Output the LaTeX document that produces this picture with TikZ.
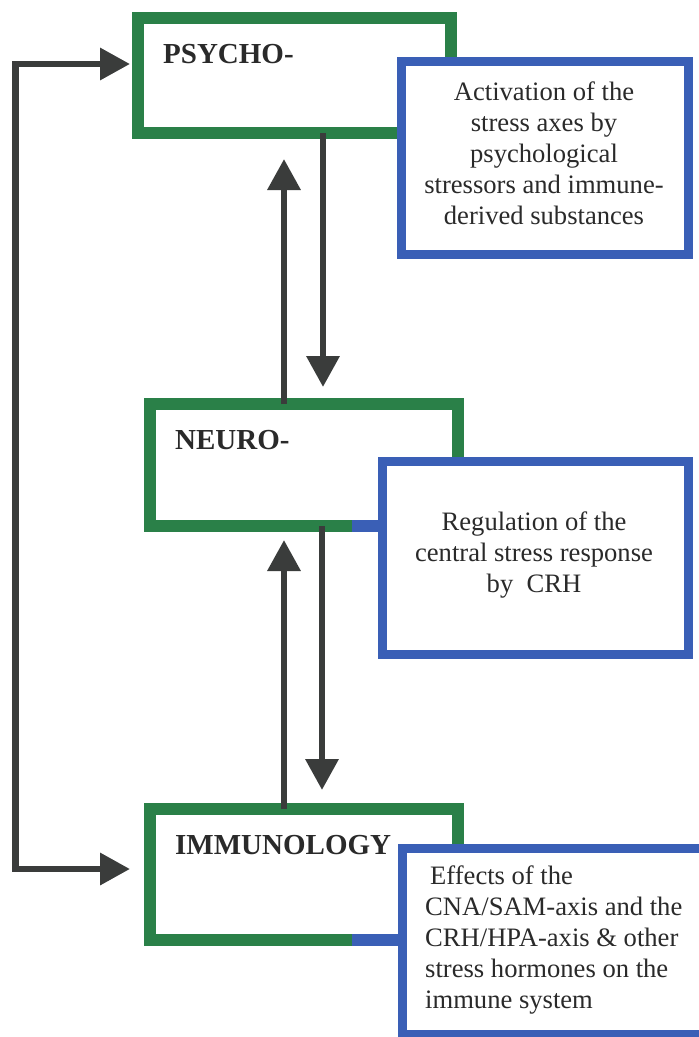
\documentclass[tikz,border=0pt]{standalone}
\usepackage{fontspec}
\setmainfont{Liberation Serif}
\usetikzlibrary{arrows.meta}
\definecolor{boxgreen}{HTML}{2A8048}
\definecolor{boxblue}{HTML}{3A5FB6}
\definecolor{arrowgray}{HTML}{3A3C3B}
\definecolor{inkgray}{HTML}{2A2A2A}

\begin{document}
\begin{tikzpicture}[x=1pt,y=-1pt,
  stagebox/.style={draw=boxgreen, line width=12pt, fill=white, rectangle,
                   inner sep=0pt, outer sep=0pt},
  notebox/.style={draw=boxblue, line width=9pt, fill=white, rectangle,
                  inner sep=0pt, outer sep=0pt},
  stagelabel/.style={anchor=base west, inner sep=0pt, text=inkgray,
                     font=\fontsize{29}{34}\selectfont\bfseries},
  notetext/.style={inner sep=0pt, text=inkgray,
                   font=\fontsize{26.6}{31}\selectfont},
  flow/.style={draw=arrowgray, line width=6.5pt,
               -{Triangle[length=31pt,width=32pt]}},
  loopflow/.style={draw=arrowgray, line width=6.5pt,
                   {Triangle[length=30pt,width=31pt]}-{Triangle[length=30pt,width=31pt]}},
  ]
  % page
  \fill[white] (0,0) rectangle (699,1037);
  \useasboundingbox (0,0) rectangle (699,1037);
  \clip (0,0) rectangle (699,1037);

  % the three levels
  \node[stagebox, minimum width=313pt, minimum height=115pt] (psycho) at (294.5,75.5) {};
  \node[stagebox, minimum width=308pt, minimum height=122pt] (neuro)  at (304,465) {};
  \node[stagebox, minimum width=308pt, minimum height=131pt] (immuno) at (304,874.5) {};

  % blue pieces of the lower frame edges
  \fill[boxblue] (352,520) rectangle (381,532);
  \fill[boxblue] (352,934) rectangle (401,946);

  % explanatory boxes
  \node[notebox, minimum width=287pt, minimum height=193pt] (note1) at (545,158) {};
  \node[notebox, minimum width=306pt, minimum height=193pt] (note2) at (535.5,558) {};
  \node[notebox, minimum width=303pt, minimum height=186pt] (note3) at (554,941.5) {};

  % level titles
  \node[stagelabel] (psycholabel) at (163,63)  {PSYCHO-};
  \node[stagelabel] (neurolabel)  at (175,449) {NEURO-};
  \node[stagelabel] (immunolabel) at (175,854) {IMMUNOLOGY};

  % explanations
  \node[notetext, align=center] (text1) at (544,153)
    {Activation of the\\stress axes by\\psychological\\stressors and immune-\\derived substances};
  \node[notetext, align=center] (text2) at (534,555)
    {Regulation of the\\central stress response\\by\ \ CRH};
  \node[notetext, align=left, anchor=west] (text3) at (425,940)
    {\hspace*{5pt}Effects of the\\CNA/SAM-axis and the\\CRH/HPA-axis \& other\\stress hormones on the\\immune system};

  % columns of the vertical arrows
  \coordinate (upcol)  at (284,0);
  \coordinate (dncolA) at (323,0);
  \coordinate (dncolB) at (322,0);

  \draw[flow, shorten >=26pt] (neuro.north -| upcol) -- (psycho.south -| upcol);
  \draw[flow, shorten >=17pt] (psycho.south -| dncolA) -- (neuro.north -| dncolA);
  \draw[flow, shorten >=14pt] (immuno.north -| upcol) -- (neuro.south -| upcol);
  \draw[flow, shorten >=19pt] (neuro.south -| dncolB) -- (immuno.north -| dncolB);

  % feedback loop on the left
  \coordinate (loopTop) at (15.5,64);
  \coordinate (loopBot) at (15.5,869);
  \draw[loopflow, shorten <=8pt, shorten >=20pt]
    (psycho.west |- loopTop) -- (loopTop) -- (loopBot) -- (immuno.west |- loopBot);
\end{tikzpicture}
\end{document}
